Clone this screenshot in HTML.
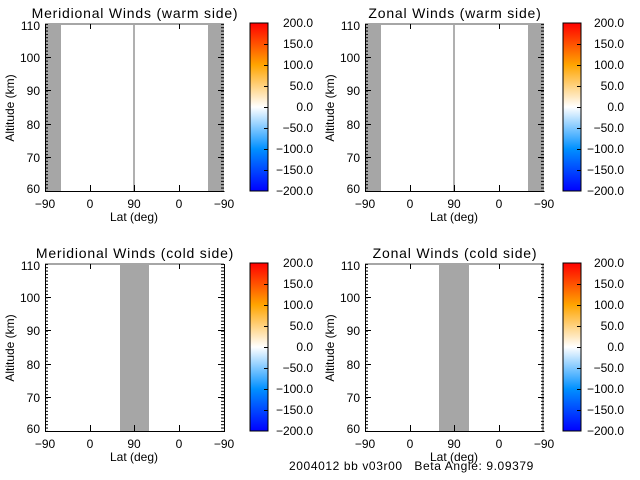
<!DOCTYPE html>
<html><head><meta charset="utf-8"><style>
html,body{margin:0;padding:0;background:#fff}
svg{display:block}
text{font-family:"Liberation Sans",sans-serif;font-size:12px;fill:#000}
.t{font-size:14px;letter-spacing:0.8px}
</style></head><body>
<svg width="640" height="480" viewBox="0 0 640 480" xmlns="http://www.w3.org/2000/svg">
<defs>
<linearGradient id="cb" x1="0" y1="1" x2="0" y2="0">
<stop offset="0" stop-color="#0000ff"/>
<stop offset="0.25" stop-color="#0090ff"/>
<stop offset="0.5" stop-color="#ffffff"/>
<stop offset="0.75" stop-color="#ffa500"/>
<stop offset="1" stop-color="#ff0000"/>
</linearGradient>
<pattern id="mt" patternUnits="userSpaceOnUse" x="0" y="0.5" width="10" height="3.34"><rect x="0" y="0" width="10" height="1" fill="#000"/></pattern>
</defs>

<g>
<rect x="45" y="24" width="16" height="167" fill="#a6a6a6"/>
<rect x="208" y="24" width="16" height="167" fill="#a6a6a6"/>
<rect x="133" y="24" width="2" height="167" fill="#b0b0b0"/>
<rect x="45" y="23" width="179" height="2" fill="#a6a6a6"/>
</g>
<g transform="translate(320,0)">
<rect x="45" y="24" width="16" height="167" fill="#a6a6a6"/>
<rect x="208" y="24" width="16" height="167" fill="#a6a6a6"/>
<rect x="133" y="24" width="2" height="167" fill="#b0b0b0"/>
<rect x="45" y="23" width="179" height="2" fill="#a6a6a6"/>
</g>
<g transform="translate(0,240)">
<rect x="120" y="24" width="29" height="167" fill="#a6a6a6"/>
<rect x="45" y="23" width="179" height="2" fill="#a6a6a6"/>
</g>
<g transform="translate(320,240)">
<rect x="119" y="24" width="30" height="167" fill="#a6a6a6"/>
<rect x="45" y="23" width="179" height="2" fill="#a6a6a6"/>
<rect x="222" y="24" width="2" height="167" fill="#a6a6a6"/>
</g>

<g>
<path d="M45.5 24V191.5H224.5" stroke="#000" fill="none"/>
<rect x="45" y="24" width="3" height="167" fill="url(#mt)"/>
<rect x="221" y="24" width="3" height="167" fill="url(#mt)"/>
<path d="M45 57.5h6M45 90.5h6M45 124.5h6M45 157.5h6M224 57.5h-6M224 90.5h-6M224 124.5h-6M224 157.5h-6M90.5 191v-6M134.5 191v-6M179.5 191v-6M90.5 24v5M179.5 24v5" stroke="#000"/>
<text x="40" y="30" text-anchor="end">110</text><text x="40" y="62" text-anchor="end">100</text><text x="40" y="95" text-anchor="end">90</text><text x="40" y="129" text-anchor="end">80</text><text x="40" y="162" text-anchor="end">70</text><text x="40" y="193" text-anchor="end">60</text>
<text x="45" y="208" text-anchor="middle">−90</text><text x="90" y="208" text-anchor="middle">0</text><text x="134" y="208" text-anchor="middle">90</text><text x="179" y="208" text-anchor="middle">0</text><text x="224" y="208" text-anchor="middle">−90</text>
<text x="134" y="221" text-anchor="middle">Lat (deg)</text>
<text transform="translate(14,108) rotate(-90)" text-anchor="middle">Altitude (km)</text>
</g>
<g transform="translate(320,0)">
<path d="M45.5 24V191.5H224.5" stroke="#000" fill="none"/>
<rect x="45" y="24" width="3" height="167" fill="url(#mt)"/><rect x="221" y="24" width="3" height="167" fill="url(#mt)"/>
<path d="M45 57.5h6M45 90.5h6M45 124.5h6M45 157.5h6M224 57.5h-6M224 90.5h-6M224 124.5h-6M224 157.5h-6M90.5 191v-6M134.5 191v-6M179.5 191v-6M90.5 24v5M179.5 24v5" stroke="#000"/>
<text x="40" y="30" text-anchor="end">110</text><text x="40" y="62" text-anchor="end">100</text><text x="40" y="95" text-anchor="end">90</text><text x="40" y="129" text-anchor="end">80</text><text x="40" y="162" text-anchor="end">70</text><text x="40" y="193" text-anchor="end">60</text>
<text x="45" y="208" text-anchor="middle">−90</text><text x="90" y="208" text-anchor="middle">0</text><text x="134" y="208" text-anchor="middle">90</text><text x="179" y="208" text-anchor="middle">0</text><text x="224" y="208" text-anchor="middle">−90</text>
<text x="134" y="221" text-anchor="middle">Lat (deg)</text>
<text transform="translate(14,108) rotate(-90)" text-anchor="middle">Altitude (km)</text>
</g>
<g transform="translate(0,240)">
<path d="M45.5 24V191.5H224.5V24" stroke="#000" fill="none"/>
<rect x="45" y="24" width="3" height="167" fill="url(#mt)"/><rect x="221" y="24" width="3" height="167" fill="url(#mt)"/>
<path d="M45 57.5h6M45 90.5h6M45 124.5h6M45 157.5h6M224 57.5h-6M224 90.5h-6M224 124.5h-6M224 157.5h-6M90.5 191v-6M134.5 191v-6M179.5 191v-6M90.5 24v5M179.5 24v5" stroke="#000"/>
<text x="40" y="30" text-anchor="end">110</text><text x="40" y="62" text-anchor="end">100</text><text x="40" y="95" text-anchor="end">90</text><text x="40" y="129" text-anchor="end">80</text><text x="40" y="162" text-anchor="end">70</text><text x="40" y="193" text-anchor="end">60</text>
<text x="45" y="208" text-anchor="middle">−90</text><text x="90" y="208" text-anchor="middle">0</text><text x="134" y="208" text-anchor="middle">90</text><text x="179" y="208" text-anchor="middle">0</text><text x="224" y="208" text-anchor="middle">−90</text>
<text x="134" y="221" text-anchor="middle">Lat (deg)</text>
<text transform="translate(14,108) rotate(-90)" text-anchor="middle">Altitude (km)</text>
</g>
<g transform="translate(320,240)">
<path d="M45.5 24V191.5H224.5" stroke="#000" fill="none"/>
<rect x="45" y="24" width="3" height="167" fill="url(#mt)"/><rect x="221" y="24" width="3" height="167" fill="url(#mt)"/>
<path d="M45 57.5h6M45 90.5h6M45 124.5h6M45 157.5h6M224 57.5h-6M224 90.5h-6M224 124.5h-6M224 157.5h-6M90.5 191v-6M134.5 191v-6M179.5 191v-6M90.5 24v5M179.5 24v5" stroke="#000"/>
<text x="40" y="30" text-anchor="end">110</text><text x="40" y="62" text-anchor="end">100</text><text x="40" y="95" text-anchor="end">90</text><text x="40" y="129" text-anchor="end">80</text><text x="40" y="162" text-anchor="end">70</text><text x="40" y="193" text-anchor="end">60</text>
<text x="45" y="208" text-anchor="middle">−90</text><text x="90" y="208" text-anchor="middle">0</text><text x="134" y="208" text-anchor="middle">90</text><text x="179" y="208" text-anchor="middle">0</text><text x="224" y="208" text-anchor="middle">−90</text>
<text x="134" y="221" text-anchor="middle">Lat (deg)</text>
<text transform="translate(14,108) rotate(-90)" text-anchor="middle">Altitude (km)</text>
</g>

<text x="135" y="18" text-anchor="middle" class="t">Meridional Winds (warm side)</text>
<text x="455" y="18" text-anchor="middle" class="t">Zonal Winds (warm side)</text>
<text x="135" y="258" text-anchor="middle" class="t">Meridional Winds (cold side)</text>
<text x="455" y="258" text-anchor="middle" class="t">Zonal Winds (cold side)</text>

<g transform="translate(250,23)">
<rect x="0" y="0" width="18" height="168" fill="url(#cb)" stroke="#000"/>
<path d="M18 21.5h-4M18 42.5h-4M18 63.5h-4M18 84.5h-4M18 105.5h-4M18 126.5h-4M18 147.5h-4" stroke="#000"/>
<g text-anchor="end"><text x="63" y="4">200.0</text><text x="63" y="25">150.0</text><text x="63" y="46">100.0</text><text x="63" y="67">50.0</text><text x="63" y="88">0.0</text><text x="63" y="109">−50.0</text><text x="63" y="130">−100.0</text><text x="63" y="151">−150.0</text><text x="63" y="172">−200.0</text></g>
</g>
<g transform="translate(563,23)">
<rect x="0" y="0" width="18" height="168" fill="url(#cb)" stroke="#000"/>
<path d="M18 21.5h-4M18 42.5h-4M18 63.5h-4M18 84.5h-4M18 105.5h-4M18 126.5h-4M18 147.5h-4" stroke="#000"/>
<g text-anchor="end"><text x="61" y="4">200.0</text><text x="61" y="25">150.0</text><text x="61" y="46">100.0</text><text x="61" y="67">50.0</text><text x="61" y="88">0.0</text><text x="61" y="109">−50.0</text><text x="61" y="130">−100.0</text><text x="61" y="151">−150.0</text><text x="61" y="172">−200.0</text></g>
</g>
<g transform="translate(250,263)">
<rect x="0" y="0" width="18" height="168" fill="url(#cb)" stroke="#000"/>
<path d="M18 21.5h-4M18 42.5h-4M18 63.5h-4M18 84.5h-4M18 105.5h-4M18 126.5h-4M18 147.5h-4" stroke="#000"/>
<g text-anchor="end"><text x="63" y="4">200.0</text><text x="63" y="25">150.0</text><text x="63" y="46">100.0</text><text x="63" y="67">50.0</text><text x="63" y="88">0.0</text><text x="63" y="109">−50.0</text><text x="63" y="130">−100.0</text><text x="63" y="151">−150.0</text><text x="63" y="172">−200.0</text></g>
</g>
<g transform="translate(563,263)">
<rect x="0" y="0" width="18" height="168" fill="url(#cb)" stroke="#000"/>
<path d="M18 21.5h-4M18 42.5h-4M18 63.5h-4M18 84.5h-4M18 105.5h-4M18 126.5h-4M18 147.5h-4" stroke="#000"/>
<g text-anchor="end"><text x="61" y="4">200.0</text><text x="61" y="25">150.0</text><text x="61" y="46">100.0</text><text x="61" y="67">50.0</text><text x="61" y="88">0.0</text><text x="61" y="109">−50.0</text><text x="61" y="130">−100.0</text><text x="61" y="151">−150.0</text><text x="61" y="172">−200.0</text></g>
</g>

<text x="289" y="470" xml:space="preserve" style="letter-spacing:0.6px">2004012 bb v03r00   Beta Angle: 9.09379</text>
</svg>
</body></html>
